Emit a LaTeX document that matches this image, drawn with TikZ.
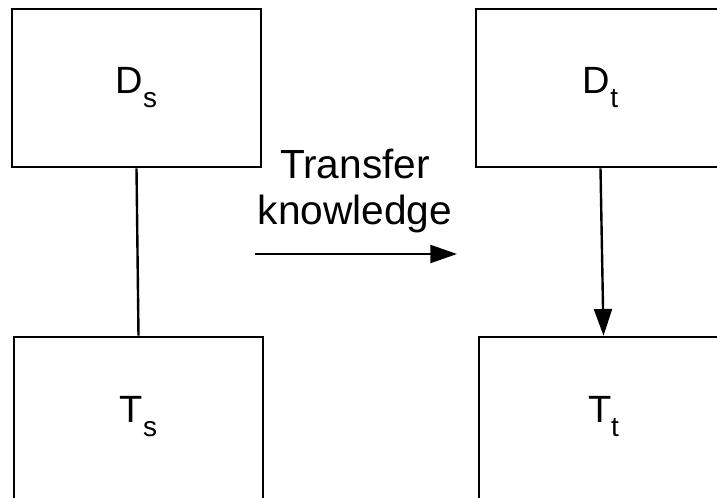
\documentclass[tikz,border=0pt]{standalone}
\usepackage{fontspec}
\setmainfont{Liberation Sans}
\usetikzlibrary{arrows.meta}

\newcommand{\lowsub}[1]{\raisebox{-10.5pt}{\fontsize{21}{21}\selectfont #1}}

\tikzset{every picture/.style={line width=1.8pt}}
\tikzset{
	domainbox/.style={draw, line width=2pt, minimum width=186.75pt, minimum height=118.5pt, inner sep=0pt, font=\fontsize{28.5}{28.5}\selectfont},
	taskbox/.style={domainbox, minimum height=123pt, text depth=15pt},
	flowarrow/.style={-{Triangle[length=20pt,width=13.5pt]}}
}

\begin{document}
\begin{tikzpicture}[x=0.75pt,y=0.75pt,yscale=-1,xscale=1]
		\clip (0,0) rectangle (717,497); %picture is 717 x 497
		
		%Source domain and task
		\node[domainbox] (ds) at (136.5,88) {D\lowsub{s}};
		\node[taskbox] (ts) at (138.5,419) {T\lowsub{s}};
		%Target domain and task
		\node[domainbox] (dt) at (600.5,88) {D\lowsub{t}};
		\node[taskbox] (tt) at (603.5,419) {T\lowsub{t}};
		
		%Straight Lines
		\draw (ds.south) -- (ts.north) ;
		\draw[flowarrow] (dt.south) -- (tt.north) ;
		
		%Transfer arrow
		\coordinate (tkstart) at (255,254);
		\coordinate (tkend) at (457,254);
		\draw[flowarrow, line width=1.7pt] (tkstart) -- (tkend) ;
		
		% Text Node
		\node[align=center, inner sep=0pt, font=\fontsize{30.5}{34.5}\selectfont] (tklabel) at (355,191) {Transfer\\knowledge};
\end{tikzpicture}
\end{document}
